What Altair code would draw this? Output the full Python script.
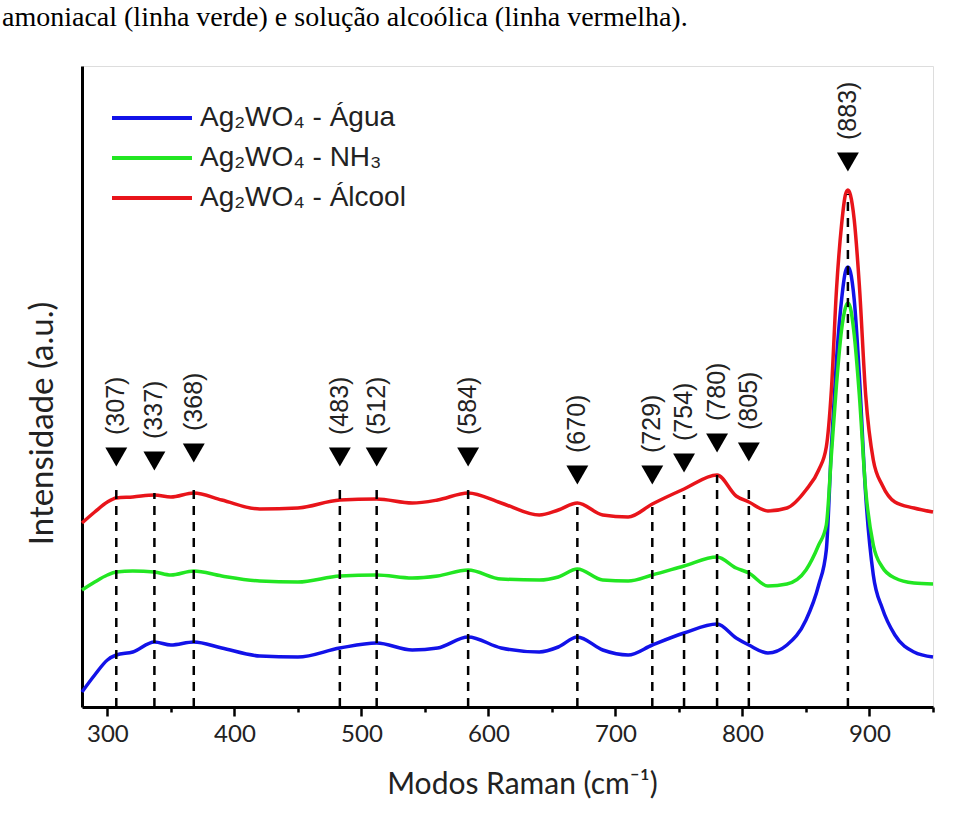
import altair as alt
import pandas as pd

# Raman shift (cm-1) sampled along the curves
wavenumber = [280, 290, 300, 307, 320, 337, 350, 368, 390, 420, 450, 483, 512, 540, 560,
              584, 610, 640, 655, 670, 690, 710, 729, 754, 780, 795, 805, 820, 835, 850,
              860, 866, 870, 874, 878, 881, 883, 885, 888, 892, 897, 903, 910, 920, 935, 950]

# intensities (arbitrary units, offset stacked as in the figure)
agua = [15, 32, 47, 52, 55, 65, 62, 65, 59, 51, 50, 59, 64, 57, 59,
        70, 59, 55, 60, 70, 57, 52, 62, 74, 83, 69, 62, 54, 62, 87,
        122, 157, 260, 347, 407, 435, 440, 435, 407, 332, 212, 132, 99, 72, 55, 50]
nh3 = [117, 125, 132, 135, 136, 135, 132, 136, 131, 126, 125, 131, 132, 129, 131,
       137, 128, 127, 130, 138, 127, 126, 132, 141, 150, 139, 134, 121, 123, 137,
       162, 182, 252, 322, 377, 399, 404, 399, 372, 312, 217, 162, 140, 129, 124, 123]
alcool = [184, 195, 205, 209, 210, 212, 210, 214, 207, 198, 199, 207, 208, 204, 207,
          214, 204, 192, 197, 204, 192, 190, 203, 218, 232, 211, 205, 196, 199, 217,
          237, 260, 317, 417, 482, 512, 517, 512, 487, 422, 312, 247, 222, 205, 199, 195]

series_names = ["Ag₂WO₄ - Água", "Ag₂WO₄ - NH₃", "Ag₂WO₄ - Álcool"]
series_colors = ["#1212e8", "#22e622", "#e8141a"]

# annotated Raman modes and the height of their markers
peaks = [307, 337, 368, 483, 512, 584, 670, 729, 754, 780, 805, 883]
peak_marks = [250, 246, 254, 250, 250, 250, 232, 232, 244, 264, 255, 545]
peak_labels = ["(%d)" % p for p in peaks]

caption = "amoniacal (linha verde) e solução alcoólica (linha vermelha)."

rows = []
for name, vals in zip(series_names, [agua, nh3, alcool]):
    for w, v in zip(wavenumber, vals):
        rows.append({"w": w, "v": v, "s": name})
df = pd.DataFrame(rows)

pk = pd.DataFrame({"w": peaks, "m": peak_marks, "label": peak_labels})
pk["top"] = pk["m"] - 32
pk["zero"] = 0

xscale = alt.Scale(domain=[280, 950], nice=False, zero=False)
yscale = alt.Scale(domain=[0, 641], nice=False, zero=False)

xaxis = alt.Axis(
    title="Modos Raman (cm⁻¹)",
    values=list(range(300, 951, 50)),
    labelExpr="datum.value % 100 === 0 ? datum.label : ''",
    tickSize={"condition": {"test": "datum.value % 100 === 0", "value": 9}, "value": 5},
    tickWidth=2.5, tickColor="black",
    domainColor="black", domainWidth=3,
    grid=False, labelFont="Lato", labelFontSize=24, labelColor="#222",
    labelPadding=6, labelFlush=False, labelOverlap=False,
    titleFont="Lato", titleFontSize=30, titleFontWeight="normal", titleColor="#222",
    titleX=440, titleY=86, titleBaseline="alphabetic",
)
yaxis = alt.Axis(
    title="Intensidade (a.u.)", labels=False, ticks=False, grid=False,
    domainColor="black", domainWidth=3,
    titleFont="Lato", titleFontSize=33, titleFontWeight="normal", titleColor="#222",
    titleX=-40, titleY=357, titleBaseline="middle", titleAngle=270,
)

lines = alt.Chart(df).mark_line(strokeWidth=3.5, interpolate="monotone").encode(
    x=alt.X("w:Q", scale=xscale, axis=xaxis),
    y=alt.Y("v:Q", scale=yscale, axis=yaxis),
    color=alt.Color("s:N", scale=alt.Scale(domain=series_names, range=series_colors),
                    sort=series_names,
                    legend=alt.Legend(orient="none", legendX=56, legendY=38, title=None,
                                      symbolType="M-4,0H4", symbolSize=400,
                                      symbolStrokeWidth=4, labelFont="Liberation Sans",
                                      labelFontSize=28, labelColor="#222", labelOffset=34,
                                      labelLimit=500, rowPadding=12)),
    order="w:Q",
    detail="s:N",
)

dashes = alt.Chart(pk).mark_rule(color="black", strokeWidth=2.5, strokeDash=[9, 7]).encode(
    x=alt.X("w:Q", scale=xscale), y=alt.Y("zero:Q", scale=yscale), y2="top:Q")

tris = alt.Chart(pk).mark_point(shape="triangle-down", filled=True, color="black",
                                size=480, opacity=1).encode(
    x=alt.X("w:Q", scale=xscale), y=alt.Y("m:Q", scale=yscale))

labels = alt.Chart(pk).mark_text(angle=270, align="left", baseline="middle", dx=22,
                                 font="Liberation Sans", fontSize=25, color="#222").encode(
    x=alt.X("w:Q", scale=xscale), y=alt.Y("m:Q", scale=yscale), text="label:N")

chart = alt.layer(lines, dashes, tris, labels).properties(
    width=851, height=641,
    autosize=alt.AutoSizeParams(type="none"),
    padding={"left": 82, "top": 66, "right": 44, "bottom": 109},
    title=alt.TitleParams(text=caption, anchor="start", frame="group", dx=-80, offset=12,
                          baseline="alphabetic", font="Liberation Serif", fontSize=28,
                          fontWeight="normal", color="black"),
).configure_view(stroke="black", strokeWidth=3).configure(background="white")

chart.save("out.html", embed_options={"renderer": "svg", "actions": False})
